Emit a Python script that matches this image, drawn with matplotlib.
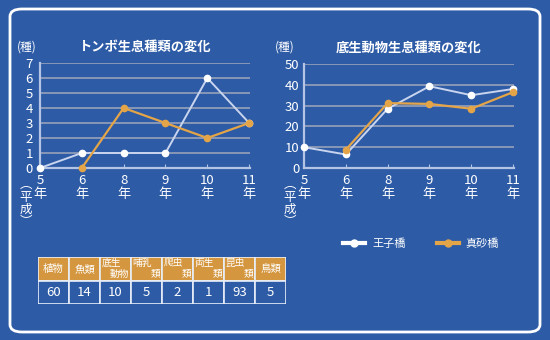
import numpy as np
import matplotlib
matplotlib.use("Agg")
import matplotlib.pyplot as plt
from matplotlib.patches import FancyBboxPatch, Rectangle
from matplotlib.lines import Line2D

plt.rcParams['font.family'] = ['Noto Sans CJK JP', 'DejaVu Sans']

# ---- data ----
years = ["5", "6", "8", "9", "10", "11"]
series_names = ["王子橋", "真砂橋"]
dragonfly_ouji = [0, 1, 1, 1, 6, 3]
dragonfly_masago = [np.nan, 0, 4, 3, 2, 3]
benthos_ouji = [10, 6.5, 28.5, 39.3, 35, 38]
benthos_masago = [np.nan, 8.8, 31.2, 30.8, 28.5, 36.5]
table_headers = ["植物", "魚類", "底生動物", "哺乳類", "爬虫類", "両生類", "昆虫類", "鳥類"]
table_values = [60, 14, 10, 5, 2, 1, 93, 5]

BG = "#2d5ba6"
WHITE_LINE = "#c9d5ee"
ORANGE = "#e3a548"
GRID = "#8e9cb8"
AXIS = "#b4c4e4"
HEAD = "#d4963e"

W, H = 550, 340
fig = plt.figure(figsize=(5.5, 3.4), dpi=100)
fig.patch.set_facecolor(BG)

# white rounded frame
frame = FancyBboxPatch((10 / W, 8 / H), 530 / W, 323 / H,
                       boxstyle="round,pad=0,rounding_size=0.022",
                       transform=fig.transFigure, fill=False,
                       edgecolor="white", linewidth=2.0)
fig.patches.append(frame)


def px_axes(x0, y0, x1, y1):
    return fig.add_axes([x0 / W, (H - y1) / H, (x1 - x0) / W, (y1 - y0) / H])


def draw_chart(ax, ouji, masago, ymax, ystep, title, ypad, unit_x, era_x):
    ax.set_facecolor("none")
    x = np.arange(len(years))
    for v in np.arange(ystep, ymax + ystep / 2, ystep):
        ax.axhline(v, color=GRID, lw=1.3, zorder=1)
    ax.plot(x, ouji, color=WHITE_LINE, lw=1.4, marker="o", ms=4.5,
            mfc="white", mec="white", zorder=3, clip_on=False)
    ax.plot(x, masago, color=ORANGE, lw=1.6, marker="o", ms=4.5,
            mfc=ORANGE, mec=ORANGE, zorder=4, clip_on=False)
    ax.set_xlim(0, len(years) - 1 + 0.02)
    ax.set_ylim(0, ymax)
    for s in ["top", "right"]:
        ax.spines[s].set_visible(False)
    for s in ["left", "bottom"]:
        ax.spines[s].set_color(AXIS)
        ax.spines[s].set_linewidth(1.6)
    ax.set_yticks(np.arange(0, ymax + ystep / 2, ystep))
    ax.tick_params(axis="y", length=0, colors="white", labelsize=9.5, pad=ypad)
    ax.set_xticks(x)
    ax.set_xticklabels([y + "\n年" for y in years], linespacing=1.15)
    ax.tick_params(axis="x", length=3, color=AXIS, direction="in",
                   colors="white", labelsize=9.5, pad=4)
    for lab in ax.get_yticklabels() + ax.get_xticklabels():
        lab.set_color("white")
    ax.set_title(title, color="white", fontsize=9.5, fontweight="bold", pad=9)
    fig.text(unit_x / W, (H - 47) / H, "(種)", color="white",
             fontsize=8.5, ha="center", va="center")
    fig.text(era_x / W, (H - 178) / H, "︵\n平\n成\n︶", color="white",
             fontsize=9, ha="center", va="top", linespacing=0.95)


ax1 = px_axes(40, 63, 250, 168)
draw_chart(ax1, dragonfly_ouji, dragonfly_masago, 7, 1, "トンボ生息種類の変化",
           5, 27, 26)
ax2 = px_axes(304, 64, 514, 168)
draw_chart(ax2, benthos_ouji, benthos_masago, 50, 10, "底生動物生息種類の変化",
           3.5, 285, 290)

# legend
handles = [Line2D([], [], color="white", lw=3, marker="o", ms=5, mfc="white"),
           Line2D([], [], color=ORANGE, lw=3, marker="o", ms=5, mfc=ORANGE)]
fig.legend(handles, series_names, loc="center", bbox_to_anchor=(421 / W, (H - 244) / H),
           ncol=2, frameon=False, fontsize=8, labelcolor="white",
           handlelength=2.0, columnspacing=2.8, handletextpad=0.6)

# table
tx0, tx1 = 38, 286
ty0, ty1, ty2 = 257, 280, 304
tab = px_axes(tx0, ty0, tx1, ty2)
tab.set_xlim(0, len(table_headers))
tab.set_ylim(0, 2)
tab.axis("off")
for i, (hd, val) in enumerate(zip(table_headers, table_values)):
    tab.add_patch(Rectangle((i, 1), 1, 1, facecolor=HEAD, edgecolor="#e8eef8", lw=1.2))
    tab.add_patch(Rectangle((i, 0), 1, 1, facecolor=BG, edgecolor="#e8eef8", lw=1.2))
    if len(hd) <= 2:
        tab.text(i + 0.5, 1.5, hd, color="white", fontsize=7.5, ha="center", va="center")
    else:
        tab.text(i + 0.05, 1.75, hd[:2], color="white", fontsize=7, ha="left", va="center")
        tab.text(i + 0.95, 1.27, hd[2:], color="white", fontsize=7, ha="right", va="center")
    tab.text(i + 0.5, 0.5, str(val), color="white", fontsize=9.5, ha="center", va="center")

fig.savefig("out.png", dpi=100, facecolor=BG)
